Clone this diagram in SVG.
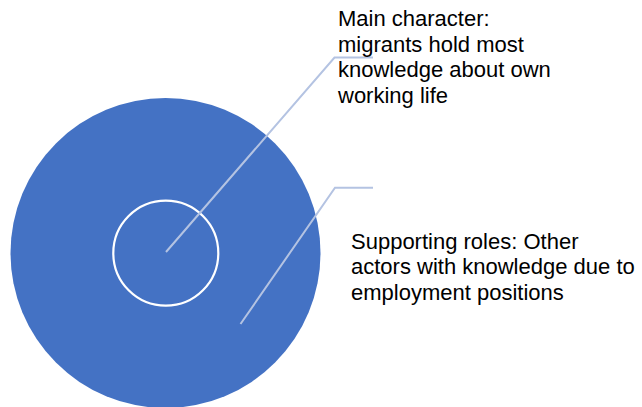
<svg xmlns="http://www.w3.org/2000/svg" width="642" height="407" viewBox="0 0 642 407">
<style>
.lbl{font-family:"Liberation Sans",Arial,sans-serif;font-size:22px;fill:#000}
.conn{fill:none;stroke:#b4c3e2;stroke-width:2}
</style>
<rect width="642" height="407" fill="#fff"/>
<g id="outer">
<circle cx="165.5" cy="253" r="155" fill="#4472c4"/>
</g>
<g id="inner">
<circle cx="165.8" cy="253.2" r="52.5" fill="none" stroke="#fff" stroke-width="2.2"/>
</g>
<g id="connectors">
<polyline class="conn" points="166,252 334.5,57.5 373,57.5"/>
<polyline class="conn" points="240.5,324 335,187.8 373,187.8"/>
</g>
<g id="label-main">
<text class="lbl" x="338" y="26">Main character:</text>
<text class="lbl" x="338" y="51.5">migrants hold most</text>
<text class="lbl" x="338" y="77">knowledge about own</text>
<text class="lbl" x="338" y="102.5">working life</text>
</g>
<g id="label-supporting">
<text class="lbl" x="351" y="248.5">Supporting roles: Other</text>
<text class="lbl" x="351" y="274">actors with knowledge due to</text>
<text class="lbl" x="351" y="299.5">employment positions</text>
</g>
</svg>
